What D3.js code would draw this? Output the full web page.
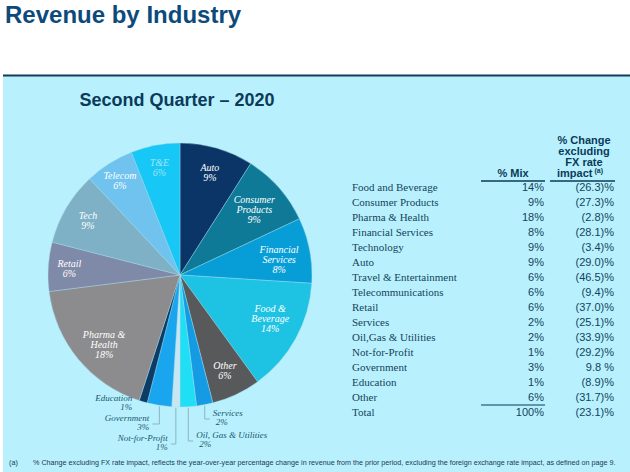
<!DOCTYPE html>
<html><head><meta charset="utf-8">
<script src="https://cdn.jsdelivr.net/npm/d3@7"></script>
<style>html,body{margin:0;padding:0;background:#fff;}svg{display:block;}</style>
</head><body>
<script>
// ---- data ----
const pieCategories = ["Auto","Consumer Products","Financial Services","Food & Beverage","Other","Services","Oil, Gas & Utilities","Not-for-Profit","Government","Education","Pharma & Health","Retail","Tech","Telecom","T&E"];
const pieValues = [9,9,8,14,6,2,2,1,3,1,18,6,9,6,6];
const pieColors = ["#0a3566","#0e7a98","#079ed8","#1ec3e3","#58595b","#159be3","#20def4","#c8e6f2","#19a6ee","#0b3c66","#8c8c8e","#7f8aa8","#7eb0c6","#6fc3ee","#17c7f5"];
const pieLabelLines = [["Auto"],["Consumer","Products"],["Financial","Services"],["Food &","Beverage"],["Other"],["Services"],["Oil, Gas & Utilities"],["Not-for-Profit"],["Government"],["Education"],["Pharma &","Health"],["Retail"],["Tech"],["Telecom"],["T&E"]];

const tableRows = ["Food and Beverage","Consumer Products","Pharma & Health","Financial Services","Technology","Auto","Travel & Entertainment","Telecommunications","Retail","Services","Oil,Gas & Utilities","Not-for-Profit","Government","Education","Other","Total"];
const mixValues = ["14%","9%","18%","8%","9%","9%","6%","6%","6%","2%","2%","1%","3%","1%","6%","100%"];
const changeValues = ["(26.3)%","(27.3)%","(2.8)%","(28.1)%","(3.4)%","(29.0)%","(46.5)%","(9.4)%","(37.0)%","(25.1)%","(33.9)%","(29.2)%","9.8 %","(8.9)%","(31.7)%","(23.1)%"];

const W = 630, H = 472;
const svg = d3.select("body").append("svg").attr("width", W).attr("height", H);

// background
svg.append("rect").attr("x",0).attr("y",0).attr("width",W).attr("height",H).attr("fill","#ffffff");
svg.append("rect").attr("x",3).attr("y",76).attr("width",W-3).attr("height",H-76).attr("fill","#b8f1fd");
svg.append("line").attr("x1",3).attr("x2",W).attr("y1",75.5).attr("y2",75.5).attr("stroke","#123c5a").attr("stroke-width",2);

svg.append("text").attr("x",5).attr("y",23).text("Revenue by Industry")
  .attr("font-family","Liberation Sans, Arial, sans-serif").attr("font-weight","bold").attr("font-size",24).attr("fill","#0d4a7c");
svg.append("text").attr("x",177).attr("y",106).attr("text-anchor","middle").text("Second Quarter \u2013 2020")
  .attr("font-family","Liberation Sans, Arial, sans-serif").attr("font-weight","bold").attr("font-size",18).attr("fill","#0b3a5a");

// ---- pie ----
const cx = 180, cy = 275, R = 132;
const g = svg.append("g").attr("transform",`translate(${cx},${cy})`);
const pie = d3.pie().sort(null).value(d => d)(pieValues);
const arc = d3.arc().innerRadius(0).outerRadius(R);
g.selectAll("path").data(pie).join("path")
  .attr("d", arc).attr("fill", (d,i) => pieColors[i])
  .attr("stroke","#a9dcea").attr("stroke-width",0.4);

const serif = "Liberation Serif, Times New Roman, serif";
// radius fraction and angle offset (radians) for inside labels
const inside = {0:[0.81,0],1:[0.75,0],2:[0.76,0.03],3:[0.76,-0.05],4:[0.80,0.0],10:[0.78,-0.05],11:[0.84,0],12:[0.81,0],13:[0.85,0],14:[0.83,0]};
pie.forEach((d,i) => {
  if (!(i in inside)) return;
  const a = (d.startAngle + d.endAngle)/2 + inside[i][1];
  const r = R*inside[i][0];
  const x = Math.sin(a)*r, y = -Math.cos(a)*r;
  const lines = pieLabelLines[i].concat([pieValues[i] + "%"]);
  const t = g.append("text").attr("text-anchor","middle")
    .attr("font-family",serif).attr("font-style","italic").attr("font-size",10)
    .attr("fill", i===14 ? "#9fe6f6" : "#ffffff");
  lines.forEach((s,k) => t.append("tspan").attr("x",x).attr("y", y + (k - (lines.length-1)/2)*10 + 3.5).text(s));
});

// outside labels with leader lines
const outside = [
  {i:9, dx:-11, y1:401, anchor:"end", lead:null},
  {i:8, y1:421, anchor:"end", lead:[424,-7]},
  {i:7, y1:441, anchor:"end", lead:[444,-5]},
  {i:6, y1:438, anchor:"start", lead:[441,5]},
  {i:5, y1:416, anchor:"start", lead:[419,5]}
];
outside.forEach(o => {
  const d = pie[o.i];
  const a = (d.startAngle + d.endAngle)/2;
  const px = cx + Math.sin(a)*R, py = cy - Math.cos(a)*R;
  if (o.lead) {
    const hx = px + o.lead[1];
    svg.append("path").attr("d",`M${px},${py+1}L${px},${o.lead[0]}L${hx},${o.lead[0]}`)
      .attr("fill","none").attr("stroke","#8fb3c4").attr("stroke-width",1);
  }
  const x = o.lead ? px + o.lead[1] + (o.anchor==="end" ? -3 : 3) : px + o.dx;
  const t = svg.append("text").attr("text-anchor",o.anchor)
    .attr("font-family",serif).attr("font-style","italic").attr("font-size",9).attr("fill","#1c5670");
  t.append("tspan").attr("x",x).attr("y",o.y1).text(pieLabelLines[o.i][0]);
  t.append("tspan").attr("x", o.anchor==="end" ? x : x+3).attr("y",o.y1+9).text(pieValues[o.i] + "%");
});

// ---- table ----
const sans = "Liberation Sans, Arial, sans-serif";
const yScale = d3.scalePoint().domain(tableRows).range([191, 416]);
const labelX = 352, mixX = 544, chgX = 614;
const hdr = svg.append("g").attr("font-family",sans).attr("font-weight","bold").attr("font-size",11).attr("fill","#0b3a5a").attr("text-anchor","middle");
hdr.append("text").attr("x",513).attr("y",177).text("% Mix");
["% Change","excluding","FX rate"].forEach((s,k) => hdr.append("text").attr("x",584).attr("y",144+k*11).text(s));
const imp = hdr.append("text").attr("x",580).attr("y",177).text("impact");
imp.append("tspan").attr("font-size",7).attr("dy",-4).text(" (a)");
svg.append("line").attr("x1",481).attr("x2",545).attr("y1",181).attr("y2",181).attr("stroke","#0b3a5a").attr("stroke-width",1.5);
svg.append("line").attr("x1",550).attr("x2",615).attr("y1",181).attr("y2",181).attr("stroke","#0b3a5a").attr("stroke-width",1.5);
svg.append("line").attr("x1",481).attr("x2",545).attr("y1",405).attr("y2",405).attr("stroke","#0b3a5a").attr("stroke-width",1);

const rows = svg.append("g");
tableRows.forEach((r,i) => {
  const y = yScale(r);
  rows.append("text").attr("x",labelX).attr("y",y).text(r)
    .attr("font-family",serif).attr("font-size",11).attr("fill","#14435c");
  rows.append("text").attr("x",mixX).attr("y",y).attr("text-anchor","end").text(mixValues[i])
    .attr("font-family",sans).attr("font-size",11).attr("fill","#14435c");
  rows.append("text").attr("x",chgX).attr("y",y).attr("text-anchor","end").text(changeValues[i])
    .attr("font-family",sans).attr("font-size",11).attr("fill","#14435c");
});

// footnote
svg.append("text").attr("x",9).attr("y",465).text("(a)").attr("font-family",sans).attr("font-size",7.2).attr("fill","#1a3a50");
svg.append("text").attr("x",33).attr("y",465)
  .text("% Change excluding FX rate impact, reflects the year-over-year percentage change in revenue from the prior period, excluding the foreign exchange rate impact, as defined on page 9.")
  .attr("font-family",sans).attr("font-size",7.2).attr("fill","#1a3a50");
</script>
</body></html>
